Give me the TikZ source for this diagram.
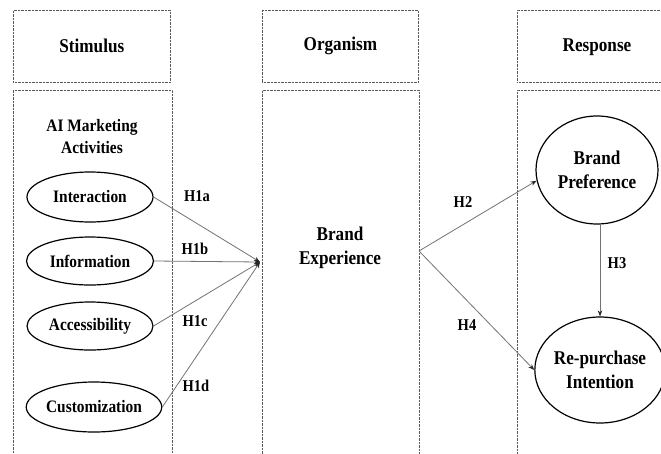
\documentclass[tikz,border=0pt]{standalone}
\usepackage{fontspec}
\setmainfont{Liberation Serif}[FakeStretch=0.88]
\usetikzlibrary{shapes.geometric,arrows.meta}
\definecolor{dotc}{gray}{0.35}
\definecolor{linec}{gray}{0.45}
\tikzset{
  dbox/.style={draw=dotc, line width=0.7pt, dash pattern=on 0.7pt off 0.7pt, rectangle, inner sep=0pt, anchor=north west},
  head/.style={font=\fontsize{19.5}{24}\selectfont\bfseries, align=center},
  smallell/.style={draw=black, line width=1.2pt, ellipse, inner sep=0pt, font=\fontsize{17.5}{21}\selectfont\bfseries},
  bigell/.style={draw=black, line width=1.2pt, ellipse, inner sep=0pt, align=center, font=\fontsize{19.5}{24.5}\selectfont\bfseries},
  hlab/.style={font=\fontsize{16.5}{20}\selectfont\bfseries},
  conn/.style={draw=linec, line width=0.8pt, -{Stealth[length=6pt,width=4.5pt,color=black!85]}},
}
\begin{document}
\begin{tikzpicture}[x=1pt,y=1pt]
\useasboundingbox (0,0) rectangle (661,-453);
\fill[white] (0,0) rectangle (661,-453);
\begin{scope}
\clip (0,0) rectangle (661,-453);
% header boxes
\node[dbox, minimum width=157, minimum height=72, head] (stim) at (13,-10) {Stimulus};
\node[dbox, minimum width=156, minimum height=72, head] (org) at (262,-10) {Organism};
\node[dbox, minimum width=300, minimum height=72] (resp) at (517,-10) {};
\node[head] (resptxt) at (597,-47) {Response};
% lower boxes
\node[dbox, minimum width=159, minimum height=380] (sb) at (13,-90) {};
\node[dbox, minimum width=157, minimum height=380] (ob) at (262,-90) {};
\node[dbox, minimum width=300, minimum height=380] (rb) at (517,-90) {};
% texts
\node[head, font=\fontsize{17.5}{22}\selectfont\bfseries] (ai) at (92,-137) {AI Marketing\\Activities};
\node[head] (be) at (340,-248) {Brand\\Experience};
% ellipses
\node[smallell, minimum width=126, minimum height=50] (int) at (90,-197) {Interaction};
\node[smallell, minimum width=127, minimum height=48] (inf) at (90,-261) {Information};
\node[smallell, minimum width=126, minimum height=48] (acc) at (90,-326) {Accessibility};
\node[smallell, minimum width=125, minimum height=50] (cus) at (94,-407) {Customization};
\node[bigell, minimum width=122, minimum height=108] (bp) at (597,-170) {Brand\\Preference};
\node[bigell, minimum width=124, minimum height=106] (rp) at (600,-370) {Re-purchase\\Intention};
% connectors
\coordinate (conv) at (260,-262);
\coordinate (bx) at (419,-251);
\draw[conn] (int.east) -- (conv);
\draw[conn] (inf.east) -- (conv);
\draw[conn] (acc.east) -- (conv);
\draw[conn] (cus.east) -- (conv);
\draw[conn] (bx) -- (bp.190);
\draw[conn] (bx) -- (rp.west);
\draw[conn] (rp.north |- bp.south) -- (rp.north);
% labels
\node[hlab] (h1a) at (197,-196) {H1a};
\node[hlab] (h1b) at (195,-249) {H1b};
\node[hlab] (h1c) at (195,-321) {H1c};
\node[hlab] (h1d) at (196,-386) {H1d};
\node[hlab] (h2) at (463,-202) {H2};
\node[hlab] (h3) at (617,-263) {H3};
\node[hlab] (h4) at (467,-325) {H4};
\end{scope}
\end{tikzpicture}
\end{document}
